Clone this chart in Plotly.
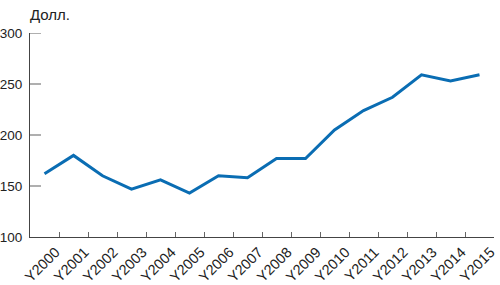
import plotly.graph_objects as go

years = ["Y2000", "Y2001", "Y2002", "Y2003", "Y2004", "Y2005", "Y2006", "Y2007",
         "Y2008", "Y2009", "Y2010", "Y2011", "Y2012", "Y2013", "Y2014", "Y2015"]
values = [162, 180, 160, 147, 156, 143, 160, 158, 177, 177, 205, 224, 237, 259, 253, 259]
y_ticks = [100, 150, 200, 250, 300]
unit_label = "Долл."

FONT = "Liberation Sans, Arial, sans-serif"
PLOT_W = 500 - 30 - 6

fig = go.Figure()
fig.add_trace(go.Scatter(x=years, y=values, mode="lines",
                         line=dict(color="#0a6db3", width=3)))

# inside tick marks on the value axis
for v in y_ticks[1:]:
    fig.add_shape(type="line", xref="paper", yref="y",
                  x0=0, x1=11 / PLOT_W, y0=v, y1=v,
                  line=dict(color="#7a7a7a", width=1.2), layer="above")

fig.update_layout(
    width=500, height=285,
    margin=dict(l=30, r=6, t=33, b=48),
    paper_bgcolor="white", plot_bgcolor="white",
    showlegend=False,
    font=dict(family=FONT, size=13, color="#222"),
    xaxis=dict(type="category", showgrid=False, showline=True, linecolor="#444",
               linewidth=1, ticks="inside", tickson="boundaries", ticklen=5,
               tickcolor="#666", tickwidth=1, tickangle=-45,
               range=[-0.5, len(years) - 0.5],
               ticklabelshift=11, tickfont=dict(size=14.5), automargin=False),
    yaxis=dict(range=[100, 300], tickvals=y_ticks, showgrid=False, showline=True,
               linecolor="#444", linewidth=1, ticks="", zeroline=False,
               ticklabelstandoff=4, tickfont=dict(size=13.5), automargin=False),
    annotations=[dict(text=unit_label, xref="paper", yref="paper", x=0, y=1,
                      xanchor="left", yanchor="bottom", yshift=8, xshift=-2,
                      showarrow=False, font=dict(size=15, family=FONT))],
)

fig.write_html("out.html")
